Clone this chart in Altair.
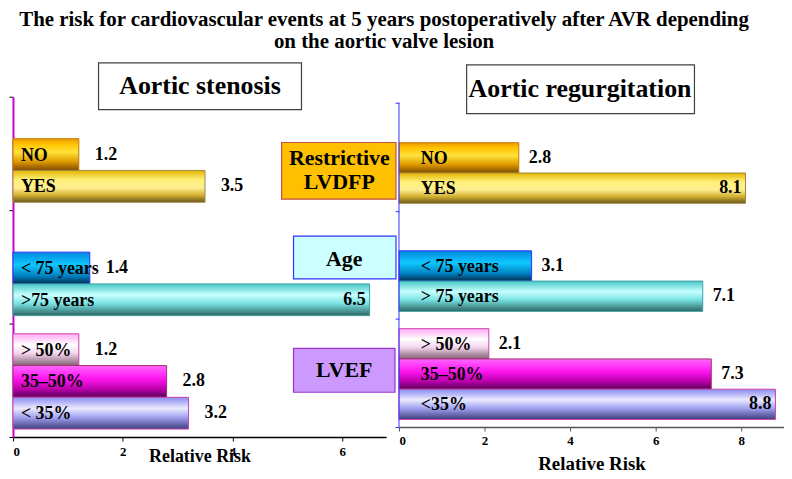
import altair as alt
import pandas as pd

SERIF = "Liberation Serif"

title_lines = [
    "The risk for cardiovascular events at 5 years postoperatively after AVR depending",
    "on the aortic valve lesion",
]
groups = ["Restrictive LVDFP", "Age", "LVEF"]
group_sizes = [2, 2, 3]
bar_keys = ["no", "yes", "young", "old", "ef_high", "ef_mid", "ef_low"]

as_title = "Aortic stenosis"
as_labels = ["NO", "YES", "< 75 years", ">75 years", "> 50%", "35–50%", "< 35%"]
as_values = [1.2, 3.5, 1.4, 6.5, 1.2, 2.8, 3.2]

ar_title = "Aortic regurgitation"
ar_labels = ["NO", "YES", "< 75 years", "> 75 years", "> 50%", "35–50%", "<35%"]
ar_values = [2.8, 8.1, 3.1, 7.1, 2.1, 7.3, 8.8]

x_title = "Relative Risk"

styles = {
    "no": dict(stops=[(0, "#EE9A00"), (0.18, "#FFC400"), (0.42, "#FFE23A"), (0.72, "#E09A00"), (1, "#7E4A00")], stroke="#C07800"),
    "yes": dict(stops=[(0, "#E2B400"), (0.3, "#FFF27A"), (0.55, "#FFEE90"), (0.78, "#D2B030"), (1, "#6A561C")], stroke="#A08A40"),
    "young": dict(stops=[(0, "#0088DD"), (0.4, "#10C8FF"), (0.75, "#0080C0"), (1, "#002E50")], stroke="#3030FF"),
    "old": dict(stops=[(0, "#48C8C8"), (0.35, "#C8FFFF"), (0.62, "#78E2E2"), (1, "#2E6464")], stroke="#40A0A0"),
    "ef_high": dict(stops=[(0, "#FFA8F4"), (0.35, "#FFFFFF"), (0.62, "#F4D4EC"), (1, "#806070")], stroke="#CC44AA"),
    "ef_mid": dict(stops=[(0, "#FF66FF"), (0.4, "#FF18F0"), (0.72, "#C000B0"), (1, "#5A005A")], stroke="#A03070"),
    "ef_low": dict(stops=[(0, "#8A8AF2"), (0.35, "#EAEAFF"), (0.62, "#A4A4F2"), (1, "#3E3E7E")], stroke="#CC44AA"),
}

PAD, BAR = 0.07, 0.28


def build(labels, values, xmax):
    rows = []
    k = 0
    for g, n in enumerate(group_sizes):
        for j in range(n):
            i = n - 1 - j
            ytop = g + 1 - PAD - (i + 1) * BAR
            ybot = g + 1 - PAD - i * BAR
            rows.append(dict(key=bar_keys[k], group=groups[g], label=labels[k], value=values[k],
                             x0=0, ytop=ytop, ybot=ybot, ymid=(ytop + ybot) / 2,
                             inside=values[k] / xmax > 0.85, vtext=f"{values[k]:.1f}"))
            k += 1
    return pd.DataFrame(rows)


def grad(stops):
    return {"gradient": "linear", "x1": 0, "y1": 0, "x2": 0, "y2": 1,
            "stops": [{"offset": o, "color": c} for o, c in stops]}


one = pd.DataFrame({"a": [0]})


def box(x, x2, y, y2, fill, stroke, sw=1.2):
    return alt.Chart(one).mark_rect(fill=fill, stroke=stroke, strokeWidth=sw).encode(
        x=alt.value(x), x2=alt.value(x2), y=alt.value(y), y2=alt.value(y2))


def label(txt, x, y, size, weight="bold"):
    return alt.Chart(one).mark_text(text=txt, font=SERIF, fontSize=size, fontWeight=weight,
                                    color="black", align="center", baseline="middle").encode(
        x=alt.value(x), y=alt.value(y))


def panel(df, xmax, ydomain, width, height, xaxis, yaxis, label_dx, value_dx, extra, yline=None):
    xs = alt.Scale(domain=[0, xmax], nice=False, zero=True)
    ys = alt.Scale(domain=ydomain, reverse=True, nice=False, zero=False)
    base = alt.Chart(df)
    layers = []
    for key in bar_keys:
        st = styles[key]
        layers.append(
            base.transform_filter(alt.datum.key == key)
            .mark_rect(fill=grad(st["stops"]), stroke=st["stroke"], strokeWidth=1)
            .encode(x=alt.X("x0:Q", scale=xs, axis=xaxis), x2="value:Q",
                    y=alt.Y("ytop:Q", scale=ys, axis=yaxis), y2="ybot:Q")
        )
    if yline is not None:
        layers.append(alt.Chart(one).mark_rule(color=yline, strokeWidth=1).encode(
            x=alt.value(0), y=alt.datum(0), y2=alt.datum(3)))
    layers.append(base.mark_text(align="left", baseline="middle", font=SERIF, fontSize=18,
                                 fontWeight="bold", color="black", dx=label_dx, dy=1)
                  .encode(x="x0:Q", y="ymid:Q", text="label:N"))
    layers.append(base.transform_filter("!datum.inside")
                  .mark_text(align="left", baseline="middle", font=SERIF, fontSize=18,
                             fontWeight="bold", color="black", dx=value_dx)
                  .encode(x="value:Q", y="ymid:Q", text="vtext:N"))
    layers.append(base.transform_filter("datum.inside")
                  .mark_text(align="right", baseline="middle", font=SERIF, fontSize=18,
                             fontWeight="bold", color="black", dx=-4)
                  .encode(x="value:Q", y="ymid:Q", text="vtext:N"))
    layers += extra
    return alt.layer(*layers).properties(width=width, height=height)


def xaxis(vals, title_y, title_size, lab_pad, color):
    return alt.Axis(values=vals, format="d", title=x_title, titleFont=SERIF, titleFontSize=title_size,
                    titleFontWeight="bold", titleColor="black", titleY=title_y, titleBaseline="middle",
                    labelFont=SERIF, labelFontSize=13, labelFontWeight="bold", labelColor="black",
                    labelPadding=lab_pad, domainColor=color, domainWidth=1.5, tickColor=color,
                    tickSize=4, grid=False)


left_df = build(as_labels, as_values, 6.8)
right_df = build(ar_labels, ar_values, 9.0)

left_y = alt.Axis(values=[0, 1, 2, 3], labels=False, title=None, grid=False, domainColor="#CC00CC",
                  domainWidth=2, tickColor="black", tickSize=4)
right_y = alt.Axis(values=[0, 1, 2, 3], labels=False, title=None, grid=False, domain=False,
                   tickColor="#3333FF", tickSize=4)

left_extra = [
    label(title_lines[0], 373, -77, 21),
    label(title_lines[1], 373, -55, 21),
    box(86, 290, -34, 13, "white", "#404040"),
    label(as_title, 188, -11, 26),
    box(270, 385, 46, 103, "#FFC000", "#C0504D"),
    label("Restrictive", 328, 62, 22),
    label("LVDFP", 328, 86, 22),
    box(282, 385, 140, 183, "#CCFFFF", "#3333FF"),
    label("Age", 333, 163, 22),
    box(282, 384, 253, 297, "#CC99FF", "#9933CC"),
    label("LVEF", 333, 275, 22),
]
right_extra = [
    box(68, 297, -32, 17, "white", "#404040"),
    label(ar_title, 182, -8, 26),
]

left = panel(left_df, 6.8, [0, 3], 375, 342,
             xaxis([0, 2, 4, 6], 20, 18, 5, "black"), left_y, 8, 16, left_extra)
right = panel(right_df, 9.0, [-0.0552, 3], 387, 332,
              xaxis([0, 2, 4, 6, 8], 37, 19, 4, "#555555"), right_y, 22, 10, right_extra,
              yline="#3333FF")

chart = alt.hconcat(left, right, spacing=13, bounds="flush").properties(padding=0).configure_view(stroke=None)

chart.save("out.html", embed_options={"renderer": "svg", "actions": False})
